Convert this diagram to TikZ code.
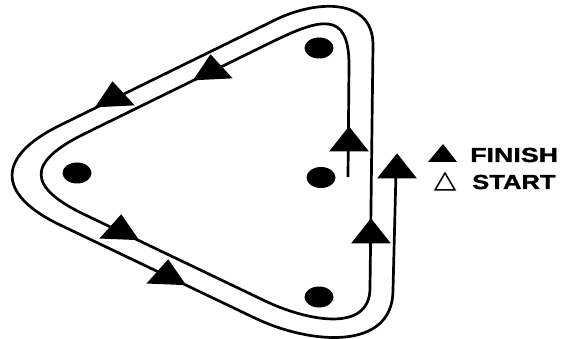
\documentclass[tikz,border=0pt]{standalone}
\usepackage{fontspec}
\setmainfont{Liberation Sans}
\newfontfamily\heavyfont[FakeBold=1.2]{Liberation Sans Bold}
\usetikzlibrary{shapes.geometric}
\newcommand\trackarrow[3]{\fill[shift={(#1,#2)}, xscale=1.37, rotate=#3] (16.7,0) -- (-8.4,14.5) -- (-8.4,-14.5) -- cycle;}
\begin{document}
\begin{tikzpicture}[x=1pt,y=-1pt,
  track/.style={line width=2.7pt, line join=round},
  spot/.style={ellipse, fill=black, minimum width=29pt, minimum height=21pt, inner sep=0pt},
  legendtext/.style={anchor=base west, inner sep=0pt, font=\fontsize{20.3}{22}\heavyfont}
]
\useasboundingbox (0,0) rectangle (562,339);
% track (two-turn spiral)
\draw[track] (348,177) -- (349,65)
  .. controls (349,9.5) and (319.8,18.5) .. (270,42.9)
  -- (85,133.5)
  .. controls (26.6,162.1) and (26.4,186.8) .. (85,214.8)
  -- (265,300.9)
  .. controls (306.2,320.6) and (370,333.7) .. (370,288)
  -- (373,45)
  .. controls (373,-2) and (317.2,-0.7) .. (275,20)
  -- (60,125.3)
  .. controls (-3.8,156.5) and (-4,194.3) .. (60,224.9)
  -- (255,318.1)
  .. controls (310.4,344.6) and (393,351.4) .. (393,290)
  -- (396,172);
% cones
\node[spot] (top) at (319,48) {};
\node[spot] (left) at (77,173) {};
\node[spot] (mid) at (321,177.5) {};
\node[spot] (bottom) at (319,297) {};
% direction arrows
\trackarrow{349}{143}{90}
\trackarrow{212}{71}{213.9}
\trackarrow{120}{231}{-33.2}
\trackarrow{371}{235}{90}
\trackarrow{114}{98}{213.9}
\trackarrow{167}{276}{-33.2}
\trackarrow{397}{170}{90}
% legend
\fill (443,144) -- (428,162) -- (457,162) -- cycle;
\draw[line width=1.5pt, line join=miter] (445,173) -- (435,190) -- (455,190) -- cycle;
\node[legendtext] (finish) at (470,162) {\scalebox{1.32}[1]{FINISH}};
\node[legendtext] (start) at (472,189) {\scalebox{1.26}[1]{START}};
\end{tikzpicture}
\end{document}
